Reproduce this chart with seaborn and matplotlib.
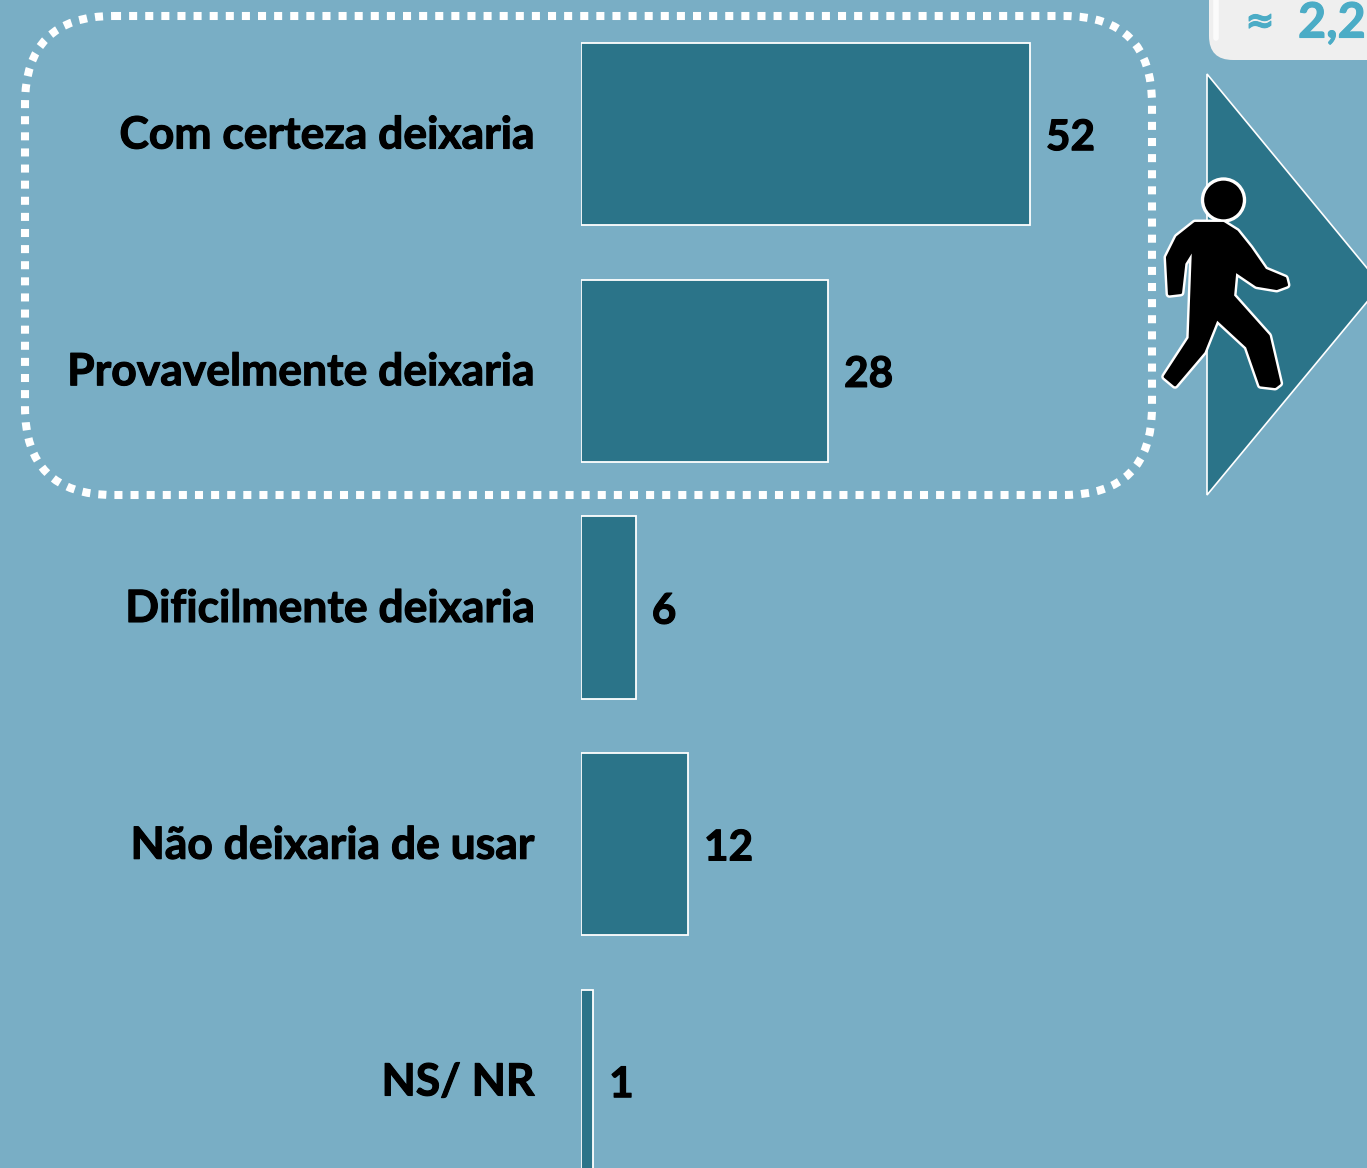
import numpy as np
import pandas as pd
import matplotlib
matplotlib.use('Agg')
import matplotlib.pyplot as plt
import matplotlib.patheffects as pe
from matplotlib.transforms import ScaledTranslation
import seaborn as sns
from matplotlib.patches import FancyBboxPatch, Polygon, Circle

# data
categories = ['Com certeza deixaria', 'Provavelmente deixaria', 'Dificilmente deixaria',
              'Não deixaria de usar', 'NS/ NR']
values = [51.6, 28.4, 6.3, 12.3, 1.4]

BG = '#79aec5'
BAR = '#2b7489'
TAG_TEXT = '#4bacc6'
W, H = 1367, 1168

sns.set_theme(style='white')
plt.rcParams['font.family'] = ['Lato', 'DejaVu Sans']

fig = plt.figure(figsize=(W / 100, H / 100), dpi=100, facecolor=BG)
bolder = [pe.withStroke(linewidth=0.8, foreground='black')]

# main chart, axes starts at the bars' baseline
ax = fig.add_axes([581 / W, 0, 1 - 581 / W, 1], facecolor='none')
df = pd.DataFrame({'cat': categories, 'val': values})
sns.barplot(data=df, y='cat', x='val', orient='h', color=BAR, saturation=1,
            width=0.77, edgecolor='white', linewidth=1.3, ax=ax)
ax.set_xlim(0, (W - 581) / 8.7)
ax.set_ylim((H - 134) / 236.75, -134 / 236.75)
ax.set_xlabel('')
ax.set_ylabel('')
ax.set_xticks([])
ax.tick_params(axis='y', length=0, pad=33)
lift = ScaledTranslation(0, 2 / 100, fig.dpi_scale_trans)
for lab in ax.get_yticklabels():
    lab.set_fontsize(32)
    lab.set_fontweight('bold')
    lab.set_color('black')
    lab.set_path_effects(bolder)
    lab.set_transform(lab.get_transform() + lift)
sns.despine(ax=ax, left=True, bottom=True)
for t in ax.bar_label(ax.containers[0], fmt='%.0f', padding=11, fontsize=30.5,
                      fontweight='bold', color='black', path_effects=bolder):
    t.xyann = (11.5, -3)

# overlay in pixel coordinates for the decorations
deco = fig.add_axes([0, 0, 1, 1], facecolor='none')
deco.set_xlim(0, W)
deco.set_ylim(H, 0)
deco.axis('off')

# dotted box round the first two bars
deco.add_patch(FancyBboxPatch((25, 16), 1127, 479, boxstyle='round,pad=0,rounding_size=88',
                              fill=False, edgecolor='white', linewidth=5.8,
                              linestyle=(0, (1, 1)), capstyle='butt'))

# arrow
deco.add_patch(Polygon([(1207, 74), (1381, 285), (1207, 495)], closed=True,
                       facecolor=BAR, edgecolor='white', linewidth=1.2))

# walking figure, white halo under a black rounded shape
walker_x = [165, 250, 290, 330, 375, 435, 440, 410, 350, 285, 278, 385, 418, 405, 362,
            322, 230, 190, 105, 75, 150, 160, 132, 122, 88, 82, 112]
walker_y = [670, 670, 695, 745, 810, 835, 855, 866, 856, 812, 888, 1008, 1150, 1160, 1155,
            1040, 955, 1055, 1155, 1130, 1015, 745, 790, 878, 882, 772, 712]
walker = np.column_stack([1140 + np.array(walker_x) / 3, np.array(walker_y) / 3])
deco.add_patch(Polygon(walker, closed=True, facecolor='white', edgecolor='white',
                       linewidth=5.5, joinstyle='round'))
deco.add_patch(Circle((1223.5, 200), 21, facecolor='black', edgecolor='white', linewidth=2.4))
deco.add_patch(Polygon(walker, closed=True, facecolor='black', edgecolor='black',
                       linewidth=2, joinstyle='round'))

# tag top right
deco.add_patch(FancyBboxPatch((1209, -60), 260, 120, boxstyle='round,pad=0,rounding_size=24',
                              facecolor='#efefef', edgecolor='none'))
deco.plot([1216, 1216], [0, 38], color='white', linewidth=4, alpha=0.8, solid_capstyle='round')
tag_bold = [pe.withStroke(linewidth=0.8, foreground=TAG_TEXT)]
deco.text(1260, 22, '≈', fontsize=25, fontweight='bold', color=TAG_TEXT, ha='center',
          va='center', family='DejaVu Sans', path_effects=tag_bold)
deco.text(1298, 23, '2,2', fontsize=35, fontweight='bold', color=TAG_TEXT, ha='left', va='center',
          path_effects=tag_bold)

fig.savefig('out.png', dpi=100, facecolor=BG)
